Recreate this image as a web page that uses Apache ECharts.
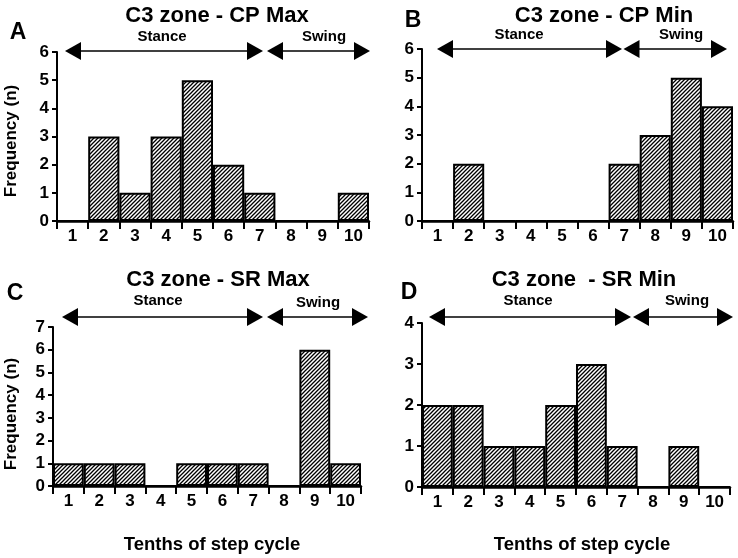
<!DOCTYPE html>
<html>
<head>
<meta charset="utf-8">
<script src="https://cdn.jsdelivr.net/npm/echarts@6/dist/echarts.min.js"></script>
<style>
html,body{margin:0;padding:0;background:#fff;}
#chart{width:738px;height:558px;}
</style>
</head>
<body>
<div id="chart"></div>
<script>
// ---- data ----
const categories = ['1','2','3','4','5','6','7','8','9','10'];
const cpMax = [0,3,1,3,5,2,1,0,0,1];
const cpMin = [0,2,0,0,0,0,2,3,5,4];
const srMax = [1,1,1,0,1,1,1,0,6,1];
const srMin = [2,2,1,1,2,3,1,0,1,0];
const panelTitles = ['C3 zone - CP Max','C3 zone - CP Min','C3 zone - SR Max','C3 zone  - SR Min'];
const panelLetters = ['A','B','C','D'];
const yMaxes = [6,6,7,4];
const yAxisName = 'Frequency (n)';
const xAxisName = 'Tenths of step cycle';
const phaseLabels = ['Stance','Swing'];

// ---- layout (pixels) ----
const grids = [
  {left:57, top:52, width:312, height:169},
  {left:422, top:49, width:311, height:172},
  {left:53, top:327, width:308, height:159},
  {left:422, top:323, width:308, height:164}
];
const seriesData = [cpMax, cpMin, srMax, srMin];

// hatch pattern
function makeHatch(){
  const c = document.createElement('canvas');
  const s = 4;
  c.width = s; c.height = s;
  const g = c.getContext('2d');
  g.fillStyle = '#fff';
  g.fillRect(0,0,s,s);
  g.strokeStyle = '#000';
  g.lineWidth = 1.3;
  g.beginPath();
  g.moveTo(-1, s+1); g.lineTo(s+1, -1);
  g.moveTo(-1, 1); g.lineTo(1, -1);
  g.moveTo(s-1, s+1); g.lineTo(s+1, s-1);
  g.stroke();
  return c;
}
const hatch = makeHatch();

const numFont = "'Liberation Sans Narrow','Arial Narrow','Liberation Sans',Arial,sans-serif";
const textFont = "'Liberation Sans',Arial,Helvetica,sans-serif";

const option = {
  backgroundColor:'#fff',
  animation:false,
  grid: grids.map(g => Object.assign({containLabel:false}, g)),
  xAxis: grids.map((g,i) => ({
    type:'category', gridIndex:i, data:categories, boundaryGap:true,
    axisLine:{show:true, onZero:true, lineStyle:{color:'#000', width:2.5}},
    axisTick:{show:true, length:8, lineStyle:{color:'#000', width:2}},
    axisLabel:{color:'#000', fontFamily:numFont, fontWeight:'bold', fontSize:17, margin:7},
    splitLine:{show:false}
  })),
  yAxis: grids.map((g,i) => ({
    type:'value', gridIndex:i, min:0, max:yMaxes[i], interval:1,
    axisLine:{show:true, lineStyle:{color:'#000', width:2}},
    axisTick:{show:true, length:5, lineStyle:{color:'#000', width:2}},
    axisLabel:{color:'#000', fontFamily:numFont, fontWeight:'bold', fontSize:17, margin:8},
    splitLine:{show:false}
  })),
  series: seriesData.map((d,i) => ({
    type:'bar', xAxisIndex:i, yAxisIndex:i, data:d,
    barWidth:'100%', barGap:'0%', barCategoryGap:'0%',
    itemStyle:{color:{image:hatch, repeat:'repeat'}, borderColor:'#000', borderWidth:2}
  })),
  title: panelTitles.map((t,i) => ({
    text:t,
    left:[212,599,213,579][i], top:[0,0,264,264][i], textAlign:'center',
    textStyle:{fontFamily:textFont, fontWeight:'bold', fontSize:22, color:'#000'}
  })),
  graphic: []
};

const G = option.graphic;
// panel letters
[[18,33],[413,21],[15,294],[409,293]].forEach((p,i)=>{
  G.push({type:'text', x:p[0], y:p[1], style:{text:panelLetters[i], fontFamily:textFont, fontWeight:'bold', fontSize:23, fill:'#000', textAlign:'center', textVerticalAlign:'middle'}});
});
// y-axis names (left panels)
[[11,141],[11,414]].forEach(p=>{
  G.push({type:'text', x:p[0], y:p[1], rotation:Math.PI/2, style:{text:yAxisName, fontFamily:textFont, fontWeight:'bold', fontSize:17, fill:'#000', textAlign:'center', textVerticalAlign:'middle'}});
});
// x-axis names (bottom panels)
[[212,545],[582,545]].forEach(p=>{
  G.push({type:'text', x:p[0], y:p[1], style:{text:xAxisName, fontFamily:textFont, fontWeight:'bold', fontSize:18.5, fill:'#000', textAlign:'center', textVerticalAlign:'middle'}});
});
// phase arrows
function arrow(y, x1, x2){
  const hw = 16, hh = 9;
  G.push({type:'line', shape:{x1:x1+hw-2, y1:y, x2:x2-hw+2, y2:y}, style:{stroke:'#000', lineWidth:1.6}});
  G.push({type:'polygon', shape:{points:[[x1,y],[x1+hw,y-hh],[x1+hw,y+hh]]}, style:{fill:'#000'}});
  G.push({type:'polygon', shape:{points:[[x2,y],[x2-hw,y-hh],[x2-hw,y+hh]]}, style:{fill:'#000'}});
}
function phaseText(x, y, t){
  G.push({type:'text', x:x, y:y, style:{text:t, fontFamily:textFont, fontWeight:'bold', fontSize:15, fill:'#000', textAlign:'center', textVerticalAlign:'middle'}});
}
// A
arrow(51, 65, 263); arrow(51, 267, 370);
phaseText(162, 37, phaseLabels[0]); phaseText(324, 37, phaseLabels[1]);
// B
arrow(49, 437, 622); arrow(49, 623.5, 727);
phaseText(519, 35, phaseLabels[0]); phaseText(681, 35, phaseLabels[1]);
// C
arrow(317, 62, 263); arrow(317, 267, 368);
phaseText(158, 301, phaseLabels[0]); phaseText(318, 303, phaseLabels[1]);
// D
arrow(317, 429, 631); arrow(317, 633, 733);
phaseText(528, 301, phaseLabels[0]); phaseText(687, 301, phaseLabels[1]);

const chart = echarts.init(document.getElementById('chart'), null, {renderer:'canvas'});
chart.setOption(option);
</script>
</body>
</html>
